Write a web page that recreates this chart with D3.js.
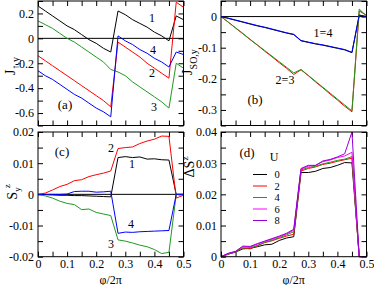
<!DOCTYPE html>
<html>
<head>
<meta charset="utf-8">
<script src="https://cdn.jsdelivr.net/npm/d3@7"></script>
<style>
  body { margin: 0; background: #fff; }
  text { font-family: "Liberation Serif", "Times New Roman", serif; }
</style>
</head>
<body>
<div id="chart"></div>
<script>
// x values (phi / 2pi)
const phi = [0, 0.025, 0.05, 0.075, 0.1, 0.125, 0.15, 0.175, 0.2, 0.225, 0.25,
             0.275, 0.3, 0.325, 0.35, 0.375, 0.4, 0.425, 0.45, 0.475, 0.5];

// (a) J_up,y
const jUp1 = [0.26, 0.22, 0.18, 0.14, 0.10, 0.07, 0.03, -0.01, -0.04, -0.08, -0.11,
              0.22, 0.19, 0.15, 0.12, 0.09, 0.05, 0.02, -0.02, 0.18, 0.15];
const jUp2 = [-0.14, -0.18, -0.22, -0.26, -0.30, -0.34, -0.38, -0.42, -0.46, -0.50, -0.55,
              -0.03, -0.07, -0.11, -0.15, -0.20, -0.24, -0.28, -0.32, 0.29, 0.25];
const jUp3 = [0.14, 0.11, 0.08, 0.04, 0.00, -0.03, -0.07, -0.11, -0.15, -0.19, -0.25,
              -0.27, -0.30, -0.35, -0.39, -0.43, -0.47, -0.51, -0.56, -0.20, -0.24];
const jUp4 = [-0.26, -0.30, -0.33, -0.37, -0.41, -0.45, -0.48, -0.52, -0.56, -0.59, -0.63,
              0.02, -0.02, -0.05, -0.09, -0.12, -0.16, -0.19, -0.23, -0.11, -0.13];

// (b) J_SO,y
const jSO1 = [0, -0.006, -0.012, -0.018, -0.024, -0.030, -0.035, -0.041, -0.047, -0.053, -0.058,
              -0.078, -0.083, -0.088, -0.092, -0.097, -0.102, -0.107, -0.116, 0.004, 0.0];
const jSO2 = [0, -0.018, -0.037, -0.055, -0.074, -0.092, -0.111, -0.129, -0.148, -0.166, -0.186,
              -0.171, -0.190, -0.210, -0.229, -0.249, -0.268, -0.288, -0.306, 0.018, 0.004];
const jSO3 = [0, -0.018, -0.036, -0.054, -0.073, -0.091, -0.109, -0.127, -0.145, -0.163, -0.181,
              -0.170, -0.189, -0.208, -0.227, -0.246, -0.265, -0.284, -0.303, 0.024, 0.002];
const jSO4 = [0, -0.005, -0.011, -0.017, -0.023, -0.029, -0.034, -0.040, -0.046, -0.052, -0.057,
              -0.077, -0.082, -0.087, -0.091, -0.096, -0.101, -0.106, -0.115, 0.005, 0.0];

// (c) S_y^z
const sy1 = [0, -0.0001, -0.0002, -0.0003, -0.0003, -0.0004, -0.0004, -0.0005, -0.0006, -0.0007, -0.0008,
             0.0118, 0.0121, 0.0118, 0.0120, 0.0113, 0.0114, 0.0111, 0.0110, 0.0, 0.0];
const sy2 = [0, 0.0004, 0.0014, 0.0025, 0.0032, 0.0044, 0.0047, 0.0057, 0.0063, 0.0068, 0.0075,
             0.0147, 0.0150, 0.0152, 0.0163, 0.0171, 0.0177, 0.0187, 0.0186, -0.0012, -0.0003];
const sy3 = [0, -0.0005, -0.0012, -0.0022, -0.0029, -0.0033, -0.0049, -0.0047, -0.0058, -0.0063, -0.0068,
             -0.0146, -0.0150, -0.0156, -0.0163, -0.0168, -0.0177, -0.0190, -0.0186, 0.0, 0.0];
const sy4 = [0, 0, 0, 0, 0.0001, 0.0009, 0.0010, 0.0010, 0.0007, 0.0008, 0.0010,
             -0.0125, -0.0121, -0.0122, -0.0120, -0.0119, -0.0118, -0.0117, -0.0116, 0.0, 0.0];

// (d) Delta S^z for U = 0, 2, 4, 6, 8
const uLabels = ["0", "2", "4", "6", "8"];
const dsU0 = [0, 0.0008, 0.0015, 0.0025, 0.0027, 0.0032, 0.0038, 0.0040, 0.0052, 0.0060, 0.0064,
              0.0270, 0.0270, 0.0274, 0.0283, 0.0286, 0.0293, 0.0302, 0.0301, 0, 0];
const dsU2 = [0, 0.0009, 0.0015, 0.0028, 0.0025, 0.0035, 0.0045, 0.0051, 0.0059, 0.0066, 0.0072,
              0.0275, 0.0283, 0.0288, 0.0296, 0.0300, 0.0306, 0.0311, 0.0316, 0, 0];
const dsU4 = [0, 0.0009, 0.0016, 0.0028, 0.0029, 0.0036, 0.0046, 0.0053, 0.0061, 0.0070, 0.0080,
              0.0278, 0.0286, 0.0290, 0.0298, 0.0303, 0.0309, 0.0313, 0.0321, 0, 0];
const dsU6 = [0, 0.0010, 0.0017, 0.0032, 0.0031, 0.0040, 0.0049, 0.0056, 0.0064, 0.0073, 0.0085,
              0.0281, 0.0290, 0.0293, 0.0305, 0.0310, 0.0318, 0.0323, 0.0335, 0, 0];
const dsU8 = [0, 0.0011, 0.0017, 0.0034, 0.0033, 0.0042, 0.0050, 0.0058, 0.0066, 0.0075, 0.0088,
              0.0283, 0.0293, 0.0293, 0.0307, 0.0312, 0.0320, 0.0330, 0.0400, 0, 0];

// ticks
const xTicks = [0, 0.05, 0.1, 0.15, 0.2, 0.25, 0.3, 0.35, 0.4, 0.45, 0.5];
const xLabels = [0, 0.1, 0.2, 0.3, 0.4, 0.5];
const yTicksA = [0.3, 0.2, 0.1, 0, -0.1, -0.2, -0.3, -0.4, -0.5, -0.6, -0.7];
const yLabelsA = [0.2, 0, -0.2, -0.4, -0.6];
const yTicksB = [0.05, 0, -0.05, -0.1, -0.15, -0.2, -0.25, -0.3, -0.35];
const yLabelsB = [0, -0.1, -0.2, -0.3];
const yTicksC = [0.02, 0.015, 0.01, 0.005, 0, -0.005, -0.01, -0.015, -0.02];
const yLabelsC = [0.02, 0.01, 0, -0.01, -0.02];
const yTicksD = [0.04, 0.035, 0.03, 0.025, 0.02, 0.015, 0.01, 0.005, 0];
const yLabelsD = [0.04, 0.03, 0.02, 0.01, 0];

const colors = ["#000000", "#ff0000", "#1f9a1f", "#0000ff"];
const uColors = ["#000000", "#ff0000", "#1f9a1f", "#ff00ff", "#9400d3"];

const svg = d3.select("#chart").append("svg")
    .attr("width", 374)
    .attr("height", 285);

function styleAxis(g) {
    g.select(".domain").remove();
    g.selectAll(".tick line").attr("stroke", "#000");
    g.attr("font-family", null);
    g.selectAll("text")
        .attr("font-size", 12)
        .attr("fill", "#000");
}

function panel(o) {
    const x = d3.scaleLinear().domain([0, 0.5]).range([o.left, o.right]);
    const y = d3.scaleLinear().domain(o.yDomain).range([o.bottom, o.top]);
    const g = svg.append("g");

    const fmtX = d => (o.xLabels && xLabels.includes(d)) ? String(d) : "";
    const fmtY = d => o.yLabels.includes(d) ? String(d) : "";

    // bottom / top / left / right ticks, all pointing inward
    g.append("g").attr("transform", `translate(0,${o.bottom})`)
        .call(d3.axisBottom(x).tickValues(xTicks).tickSize(-5).tickSizeOuter(0)
            .tickPadding(3).tickFormat(fmtX))
        .call(styleAxis);
    g.append("g").attr("transform", `translate(0,${o.top})`)
        .call(d3.axisTop(x).tickValues(xTicks).tickSize(-5).tickSizeOuter(0).tickFormat(""))
        .call(styleAxis);
    g.append("g").attr("transform", `translate(${o.left},0)`)
        .call(d3.axisLeft(y).tickValues(o.yTicks).tickSize(-5).tickSizeOuter(0)
            .tickPadding(4).tickFormat(fmtY))
        .call(styleAxis);
    g.append("g").attr("transform", `translate(${o.right},0)`)
        .call(d3.axisRight(y).tickValues(o.yTicks).tickSize(-5).tickSizeOuter(0).tickFormat(""))
        .call(styleAxis);

    // zero line
    if (o.zeroLine) {
        g.append("line")
            .attr("x1", o.left).attr("x2", o.right)
            .attr("y1", y(0)).attr("y2", y(0))
            .attr("stroke", "#000").attr("stroke-width", 1);
    }

    const line = d3.line().x((d, i) => x(phi[i])).y(d => y(d));
    o.series.forEach((s, i) => {
        g.append("path")
            .datum(s)
            .attr("fill", "none")
            .attr("stroke", o.colors[i])
            .attr("stroke-width", 1)
            .attr("d", line);
    });

    // frame
    g.append("rect")
        .attr("x", o.left).attr("y", o.top)
        .attr("width", o.right - o.left).attr("height", o.bottom - o.top)
        .attr("fill", "none").attr("stroke", "#000").attr("stroke-width", 1);

    return g;
}

function addText(g, x, y, t, size) {
    g.append("text")
        .attr("x", x).attr("y", y)
        .attr("text-anchor", "middle")
        .attr("font-size", size || 12)
        .text(t);
}

const L = { left: 38, right: 183.5 };
const R = { left: 221, right: 366.5 };
const T = { top: 1, bottom: 125.5 };
const B = { top: 132, bottom: 256.7 };

// (a)
const ga = panel({ ...L, ...T, yDomain: [-0.7, 0.3], yTicks: yTicksA, yLabels: yLabelsA,
    zeroLine: true, series: [jUp1, jUp2, jUp3, jUp4], colors: colors });
addText(ga, 65, 109, "(a)", 13);
addText(ga, 152, 22, "1");
addText(ga, 153, 54, "4");
addText(ga, 152, 77, "2");
addText(ga, 154, 111, "3");
const ya = ga.append("text")
    .attr("transform", "translate(15,66) rotate(-90)")
    .attr("text-anchor", "middle");
ya.append("tspan").attr("font-size", 14).text("J");
ya.append("tspan").attr("font-size", 10).attr("dy", 4).text("↑,y");

// (b)
const gb = panel({ ...R, ...T, yDomain: [-0.35, 0.05], yTicks: yTicksB, yLabels: yLabelsB,
    zeroLine: true, series: [jSO1, jSO2, jSO3, jSO4], colors: colors });
addText(gb, 255, 104, "(b)", 13);
addText(gb, 323, 37, "1=4");
addText(gb, 285, 84, "2=3");
const yb = gb.append("text")
    .attr("transform", "translate(192,62) rotate(-90)")
    .attr("text-anchor", "middle");
yb.append("tspan").attr("font-size", 14).text("J");
yb.append("tspan").attr("font-size", 10).attr("dy", 5).text("SO,y");

// (c)
const gc = panel({ ...L, ...B, yDomain: [-0.02, 0.02], yTicks: yTicksC, yLabels: yLabelsC,
    zeroLine: true, xLabels: true, series: [sy1, sy2, sy3, sy4], colors: colors });
addText(gc, 62, 156, "(c)", 13);
addText(gc, 111, 152, "2");
addText(gc, 132, 168, "1");
addText(gc, 131, 228, "4");
addText(gc, 111, 248, "3");
const yc = gc.append("text")
    .attr("transform", "translate(17,192) rotate(-90)")
    .attr("text-anchor", "middle");
yc.append("tspan").attr("font-size", 14).text("S");
yc.append("tspan").attr("font-size", 9).attr("dy", 3).text("y");
yc.append("tspan").attr("font-size", 9).attr("dy", -10).attr("dx", -1).text("z");
addText(gc, (L.left + L.right) / 2, 283.5, "φ/2π", 12);

// (d)
const gd = panel({ ...R, ...B, yDomain: [0, 0.04], yTicks: yTicksD, yLabels: yLabelsD,
    zeroLine: false, xLabels: true, series: [dsU0, dsU2, dsU4, dsU6, dsU8], colors: uColors });
addText(gd, 247, 157, "(d)", 13);
addText(gd, 274, 161, "U", 12);
uLabels.forEach((u, i) => {
    const yy = 174.5 + i * 11.5;
    gd.append("line")
        .attr("x1", 253).attr("x2", 267)
        .attr("y1", yy).attr("y2", yy)
        .attr("stroke", uColors[i]).attr("stroke-width", 1);
    addText(gd, 277, yy + 3.5, u, 10.5);
});
const yd = gd.append("text")
    .attr("transform", "translate(194,167) rotate(-90)")
    .attr("text-anchor", "middle");
yd.append("tspan").attr("font-size", 14).text("ΔS");
yd.append("tspan").attr("font-size", 9).attr("dy", -6).text("z");
addText(gd, (R.left + R.right) / 2, 283.5, "φ/2π", 12);
</script>
</body>
</html>
